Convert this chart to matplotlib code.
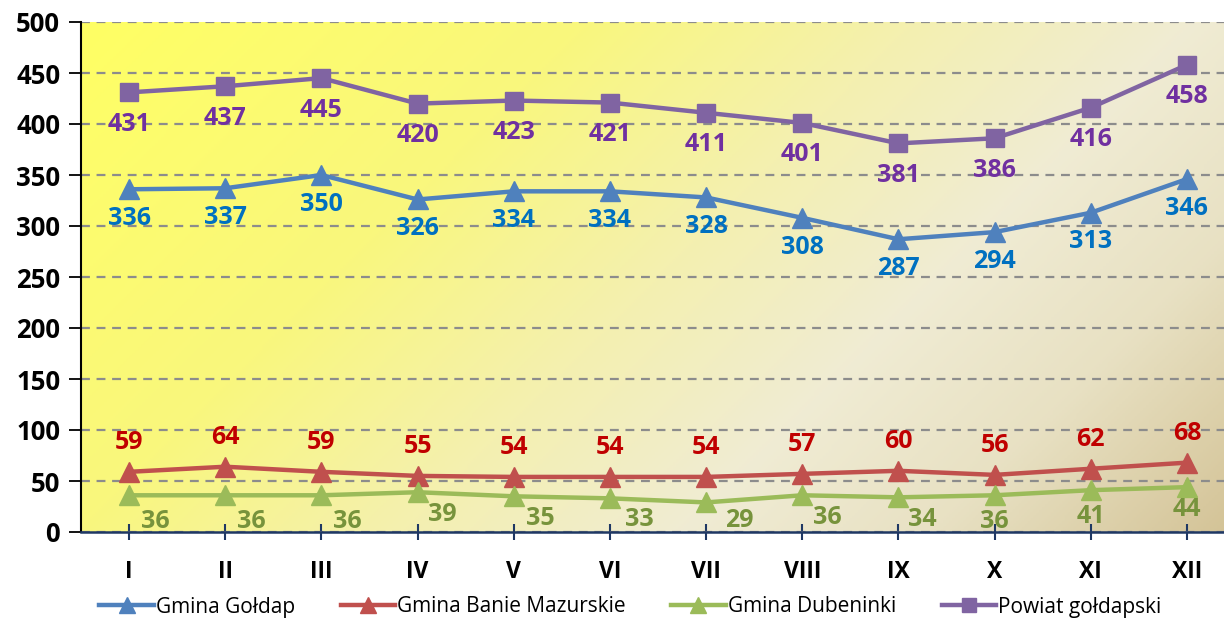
import numpy as np
import matplotlib
matplotlib.use('Agg')
import matplotlib.pyplot as plt
from matplotlib.colors import LinearSegmentedColormap

months = ['I', 'II', 'III', 'IV', 'V', 'VI', 'VII', 'VIII', 'IX', 'X', 'XI', 'XII']
goldap = [336, 337, 350, 326, 334, 334, 328, 308, 287, 294, 313, 346]
banie = [59, 64, 59, 55, 54, 54, 54, 57, 60, 56, 62, 68]
dubeninki = [36, 36, 36, 39, 35, 33, 29, 36, 34, 36, 41, 44]
powiat = [431, 437, 445, 420, 423, 421, 411, 401, 381, 386, 416, 458]
names = ['Gmina Gołdap', 'Gmina Banie Mazurskie', 'Gmina Dubeninki', 'Powiat gołdapski']

plt.rcParams['font.family'] = ['Open Sans', 'DejaVu Sans']

W, H = 1224, 622
fig = plt.figure(figsize=(W / 100, H / 100), dpi=100)
left, right, top, bottom = 81, 1235, 22, 532
ax = fig.add_axes([left / W, (H - bottom) / H, (right - left) / W, (bottom - top) / H])

x = np.arange(len(months))

# background gradient (yellow top-left -> cream -> tan bottom-right)
gw, gh = 400, 180
gx, gy = np.meshgrid(np.linspace(0, 1, gw), np.linspace(0, 1, gh))
aw, ah = right - left, bottom - top
t = (gx * aw + gy * ah) / (aw + ah)
cmap = LinearSegmentedColormap.from_list('bg', [
    (0.0, (1.0, 1.0, 0.39)),
    (0.3, (0.977, 0.969, 0.49)),
    (0.5, (0.957, 0.941, 0.69)),
    (0.67, (0.941, 0.925, 0.83)),
    (0.82, (0.91, 0.882, 0.765)),
    (1.0, (0.83, 0.765, 0.59))])
ax.imshow(t, cmap=cmap, extent=(-0.5, len(months) - 0.5, 0, 500), origin='upper',
          aspect='auto', zorder=0)
ax.set_xlim(-0.5, len(months) - 0.5)
ax.set_ylim(0, 500)

ax.set_yticks(range(0, 501, 50))
ax.grid(axis='y', color='#8c8c8c', linestyle=(0, (4, 3)), linewidth=1.6, zorder=1)
ax.set_xticks(x)
ax.set_xticklabels(months, fontsize=16.5, fontweight='bold')
for lab in ax.get_yticklabels():
    lab.set_fontsize(18.5)
    lab.set_fontweight('bold')
ax.tick_params(axis='y', direction='out', length=9, width=1.3, color='black', pad=6)
ax.tick_params(axis='x', direction='inout', length=12, width=1.5, color='#1f3864', pad=14)
for s in ['top', 'right']:
    ax.spines[s].set_visible(False)
ax.spines['left'].set_color('black')
ax.spines['left'].set_linewidth(1.5)
ax.spines['bottom'].set_color('#1f3864')
ax.spines['bottom'].set_linewidth(1.8)

series = [
    (goldap, '#4f81bd', '^', 14),
    (banie, '#c0504d', '^', 14),
    (dubeninki, '#9bbb59', '^', 14),
    (powiat, '#8064a2', 's', 13),
]
handles = []
for (vals, lc, mk, ms), name in zip(series, names):
    h, = ax.plot(x, vals, color=lc, linewidth=3.2, marker=mk, markersize=ms,
                 zorder=3, label=name)
    handles.append(h)

# data labels
lab_kw = dict(textcoords='offset points', ha='center', va='center', fontsize=18,
              fontweight='bold', zorder=4)
for i, v in enumerate(goldap):
    ax.annotate(str(v), (i, v), xytext=(0, -21), color='#0070c0', **lab_kw)
for i, v in enumerate(powiat):
    ax.annotate(str(v), (i, v), xytext=(0, -23), color='#7030a0', **lab_kw)
for i, v in enumerate(banie):
    ax.annotate(str(v), (i, v), xytext=(0, 21), color='#c00000', **lab_kw)
green_dx = [19, 19, 19, 18, 19, 21, 24, 18, 17, 0, 0, 0]
green_dy = [-19, -19, -19, -16, -16, -15, -13, -16, -16, -19, -19, -16]
for i, v in enumerate(dubeninki):
    ax.annotate(str(v), (i, v), xytext=(green_dx[i], green_dy[i]), color='#77933c', **lab_kw)

fig.legend(handles=handles, loc='center', bbox_to_anchor=(0.515, (H - 607) / H), ncol=4,
           frameon=False, fontsize=15, handlelength=2.6, columnspacing=2.2,
           handletextpad=0.1, markerscale=0.8)

fig.savefig('out.png', dpi=100)
